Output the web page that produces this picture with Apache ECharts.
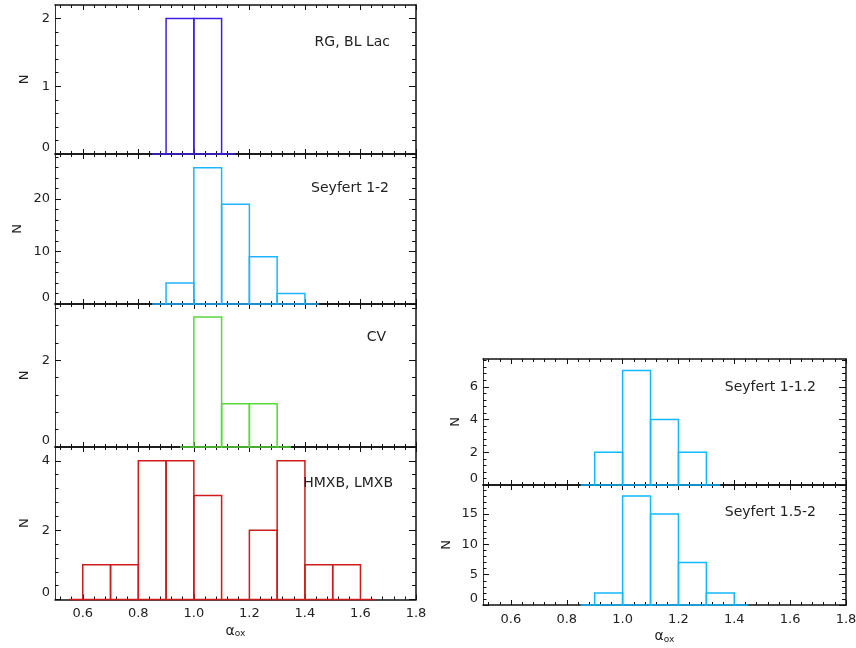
<!DOCTYPE html>
<html>
<head>
<meta charset="utf-8">
<script src="https://cdn.jsdelivr.net/npm/echarts@6/dist/echarts.min.js"></script>
<style>
html, body { margin: 0; padding: 0; background: #fff; }
#main { width: 856px; height: 648px; }
</style>
</head>
<body>
<div id="main"></div>
<script>
// alpha_ox 直方图 (每格 0.1)
var binStart = [0.6, 0.7, 0.8, 0.9, 1.0, 1.1, 1.2, 1.3, 1.4, 1.5];
var binWidth = 0.1;

var rgBlLac   = [0, 0, 0, 2, 2, 0, 0, 0, 0, 0];
var seyfert12 = [0, 0, 0, 4, 26, 19, 9, 2, 0, 0];
var cv        = [0, 0, 0, 0, 3, 1, 1, 0, 0, 0];
var xrb       = [1, 1, 4, 4, 3, 0, 2, 4, 1, 1];
var seyfert1  = [0, 0, 0, 2, 7, 4, 2, 0, 0, 0];
var seyfert2  = [0, 0, 0, 2, 18, 15, 7, 2, 0, 0];

var counts = [rgBlLac, seyfert12, cv, xrb, seyfert1, seyfert2];
var panelNames = ['RG, BL Lac', 'Seyfert 1-2', 'CV', 'HMXB, LMXB', 'Seyfert 1-1.2', 'Seyfert 1.5-2'];
var panelColors = ['#4020e0', '#1eb4ff', '#58d83a', '#cc1c1c', '#12b8ff', '#12b8ff'];

// 刻度
var xTicks = [0.6, 0.8, 1.0, 1.2, 1.4, 1.6, 1.8];
var yTicks = [[0, 1, 2], [0, 10, 20], [0, 2], [0, 2, 4], [0, 2, 4, 6], [0, 5, 10, 15]];
var yMax = [2.2, 28.6, 3.3, 4.4, 7.7, 19.8];
var yMinorStep = [0.2, 2, 0.4, 0.4, 0.4, 1];

// 版面 (像素)
var panels = [
    { left: 55, top: 5, width: 361, height: 149, labelX: false, nameGap: 24, text: { right: 466, top: 35 } },
    { left: 55, top: 154, width: 361, height: 150, labelX: false, nameGap: 31, text: { right: 467, top: 181 } },
    { left: 55, top: 304, width: 361, height: 143, labelX: false, nameGap: 24, text: { right: 470, top: 330 } },
    { left: 55, top: 447, width: 361, height: 152.5, labelX: true, nameGap: 24, text: { right: 463, top: 476 } },
    { left: 483, top: 359, width: 363, height: 126, labelX: false, nameGap: 21, text: { right: 40, top: 380 } },
    { left: 483, top: 485, width: 363, height: 120, labelX: true, nameGap: 30, text: { right: 40, top: 505 } }
];

var FONT = 'DejaVu Sans';
var INK = '#111';

var xMinor = [];
for (var k = 0; 0.52 + k * 0.04 <= 1.8001; k++) {
    xMinor.push(Math.round((0.52 + k * 0.04) * 100) / 100);
}

function minorList(step, max) {
    var out = [];
    for (var v = step; v < max - 1e-9; v += step) {
        out.push(Math.round(v * 100) / 100);
    }
    return out;
}

function binData(c) {
    var first = -1, last = -1;
    for (var i = 0; i < c.length; i++) {
        if (c[i] > 0) {
            if (first < 0) first = i;
            last = i;
        }
    }
    var data = [];
    for (var j = first; j <= last; j++) {
        data.push([binStart[j], Math.round((binStart[j] + binWidth) * 100) / 100, c[j]]);
    }
    return data;
}

function makeRender(n) {
    return function (params, api) {
        var x0 = api.value(0), x1 = api.value(1), y = api.value(2);
        var p0 = api.coord([x0, 0]);
        var p1 = api.coord([x1, y]);
        var style = { fill: 'none', stroke: api.visual('color'), lineWidth: 1.5 };
        var children = [{
            type: 'rect',
            shape: { x: p0[0], y: p1[1], width: p1[0] - p0[0], height: p0[1] - p1[1] },
            style: style
        }];
        // 两端半格的零线
        if (params.dataIndex === 0) {
            var a = api.coord([x0 - binWidth / 2, 0]);
            children.push({ type: 'line', shape: { x1: a[0], y1: a[1], x2: p0[0], y2: p0[1] }, style: style });
        }
        if (params.dataIndex === n - 1) {
            var b = api.coord([x1, 0]);
            var e = api.coord([x1 + binWidth / 2, 0]);
            children.push({ type: 'line', shape: { x1: b[0], y1: b[1], x2: e[0], y2: e[1] }, style: style });
        }
        return { type: 'group', children: children };
    };
}

var grids = [], xAxes = [], yAxes = [], series = [], titles = [];

panels.forEach(function (p, i) {
    grids.push({ left: p.left, top: p.top, width: p.width, height: p.height, containLabel: false, outerBoundsMode: 'none' });

    var xBase = { type: 'value', gridIndex: i, min: 0.5, max: 1.8, splitLine: { show: false },
        axisLabel: { show: false }, axisLine: { show: false, onZero: false } };
    // 下方主刻度 (带标签)
    xAxes.push(echarts.util.merge({
        position: 'bottom',
        axisLine: { show: true, onZero: false, lineStyle: { color: INK, width: 1.5 } },
        axisTick: { show: true, inside: true, length: 5, customValues: xTicks, lineStyle: { color: INK, width: 1 } },
        axisLabel: { show: p.labelX, customValues: xTicks, margin: 8, fontSize: 13, fontFamily: FONT, color: '#222',
            formatter: function (v) { return v.toFixed(1); } },
        name: p.labelX ? '{a|α}{b|ox}' : '',
        nameLocation: 'middle',
        nameGap: 24,
        nameTextStyle: { color: '#222', rich: {
            a: { fontSize: 14, fontFamily: FONT, color: '#222' },
            b: { fontSize: 9, fontFamily: FONT, color: '#222', padding: [6, 0, 0, 0] }
        } }
    }, xBase));
    // 下方次刻度
    xAxes.push(echarts.util.merge({ position: 'bottom',
        axisTick: { show: true, inside: true, length: 3, customValues: xMinor, lineStyle: { color: INK, width: 1 } } }, xBase));
    // 上方
    xAxes.push(echarts.util.merge({ position: 'top',
        axisLine: { show: true, onZero: false, lineStyle: { color: INK, width: 1.5 } },
        axisTick: { show: true, inside: true, length: 5, customValues: xTicks, lineStyle: { color: INK, width: 1 } } }, xBase));
    xAxes.push(echarts.util.merge({ position: 'top',
        axisTick: { show: true, inside: true, length: 3, customValues: xMinor, lineStyle: { color: INK, width: 1 } } }, xBase));

    var yMinor = minorList(yMinorStep[i], yMax[i]);
    var yBase = { type: 'value', gridIndex: i, min: 0, max: yMax[i], splitLine: { show: false },
        axisLabel: { show: false }, axisLine: { show: false, onZero: false } };
    yAxes.push(echarts.util.merge({
        position: 'left',
        axisLine: { show: true, onZero: false, lineStyle: { color: '#333', width: 1 } },
        axisTick: { show: true, inside: true, length: 6, customValues: yTicks[i], lineStyle: { color: INK, width: 1 } },
        axisLabel: { show: true, customValues: yTicks[i], margin: 5, fontSize: 13, fontFamily: FONT, color: '#222',
            verticalAlignMinLabel: 'bottom' },
        name: 'N',
        nameLocation: 'middle',
        nameGap: p.nameGap,
        nameTextStyle: { fontSize: 13, fontFamily: FONT, color: '#222' }
    }, yBase));
    yAxes.push(echarts.util.merge({ position: 'left',
        axisTick: { show: true, inside: true, length: 3.5, customValues: yMinor, lineStyle: { color: INK, width: 1 } } }, yBase));
    yAxes.push(echarts.util.merge({ position: 'right',
        axisLine: { show: true, onZero: false, lineStyle: { color: INK, width: 1.5 } },
        axisTick: { show: true, inside: true, length: 7, customValues: yTicks[i], lineStyle: { color: INK, width: 1 } } }, yBase));
    yAxes.push(echarts.util.merge({ position: 'right',
        axisTick: { show: true, inside: true, length: 4, customValues: yMinor, lineStyle: { color: INK, width: 1 } } }, yBase));

    var data = binData(counts[i]);
    series.push({
        type: 'custom',
        name: panelNames[i],
        xAxisIndex: i * 4,
        yAxisIndex: i * 4,
        itemStyle: { color: panelColors[i] },
        encode: { x: [0, 1], y: 2 },
        renderItem: makeRender(data.length),
        data: data,
        z: 5,
        silent: true
    });

    titles.push({
        text: panelNames[i],
        right: p.text.right,
        top: p.text.top,
        padding: 0,
        textStyle: { fontSize: 14, fontWeight: 'normal', fontFamily: FONT, color: '#222' }
    });
});

var myChart = echarts.init(document.getElementById('main'));
myChart.setOption({
    animation: false,
    backgroundColor: '#fff',
    title: titles,
    grid: grids,
    xAxis: xAxes,
    yAxis: yAxes,
    series: series
});
</script>
</body>
</html>
